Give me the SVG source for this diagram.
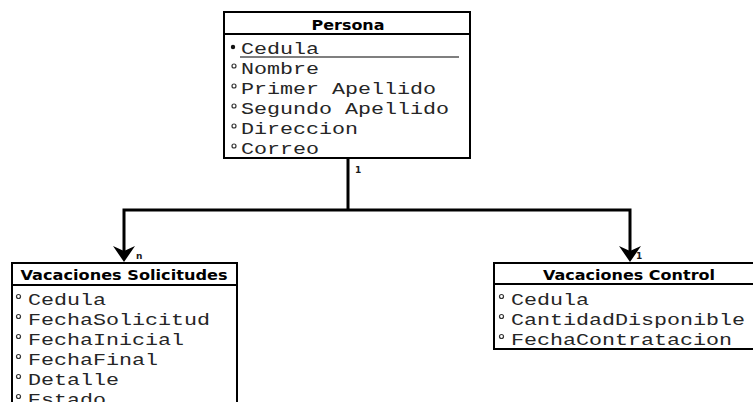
<svg xmlns="http://www.w3.org/2000/svg" width="753" height="402" viewBox="0 0 753 402">
  <style>
    .box { fill: #ffffff; stroke: #000000; stroke-width: 2; }
    .div { stroke: #000000; stroke-width: 2; }
    .hdr { font-family: "DejaVu Sans", Verdana, sans-serif; font-weight: bold; font-size: 14px; fill: #000000; text-anchor: middle; }
    .attr { font-family: "Liberation Mono", "Courier New", monospace; font-size: 16px; fill: #262626; }
    .opt { fill: #ffffff; stroke: #333333; stroke-width: 1.2; }
    .key { fill: #111111; }
    .wire { fill: none; stroke: #000000; stroke-width: 3; }
    .card { font-family: "DejaVu Sans", Verdana, sans-serif; font-weight: bold; font-size: 9px; fill: #1a1a1a; }
  </style>
  <defs>
    <path id="head" d="M0,0 L-11,-16 L0,-11 L11,-16 Z" fill="#000000"/>
  </defs>

  <rect width="753" height="402" fill="#ffffff"/>

  <!-- relationships -->
  <g id="connectors">
    <path class="wire" d="M348,158 V210"/>
    <path class="wire" d="M124,251 V210 H630 V251"/>
    <use href="#head" x="124" y="262"/>
    <use href="#head" x="630" y="262"/>
    <text class="card" x="355" y="173">1</text>
    <text class="card" x="136" y="259">n</text>
    <text class="card" x="636" y="259">1</text>
  </g>

  <!-- Persona entity -->
  <g id="persona">
    <rect class="box" x="224" y="12" width="246" height="146"/>
    <line class="div" x1="224" y1="34" x2="470" y2="34"/>
    <text class="hdr" x="348" y="30" textLength="73" lengthAdjust="spacingAndGlyphs">Persona</text>
    <circle class="key" cx="233" cy="47" r="2.2"/>
    <text class="attr" x="241" y="54" textLength="78" lengthAdjust="spacingAndGlyphs">Cedula</text>
    <line x1="240" y1="57" x2="459" y2="57" stroke="#555555" stroke-width="1.5"/>
    <circle class="opt" cx="234" cy="66" r="2"/>
    <text class="attr" x="241" y="74" textLength="78" lengthAdjust="spacingAndGlyphs">Nombre</text>
    <circle class="opt" cx="234" cy="86" r="2"/>
    <text class="attr" x="241" y="94" textLength="195" lengthAdjust="spacingAndGlyphs">Primer Apellido</text>
    <circle class="opt" cx="234" cy="106" r="2"/>
    <text class="attr" x="241" y="114" textLength="208" lengthAdjust="spacingAndGlyphs">Segundo Apellido</text>
    <circle class="opt" cx="234" cy="126" r="2"/>
    <text class="attr" x="241" y="134" textLength="117" lengthAdjust="spacingAndGlyphs">Direccion</text>
    <circle class="opt" cx="234" cy="146" r="2"/>
    <text class="attr" x="241" y="154" textLength="78" lengthAdjust="spacingAndGlyphs">Correo</text>
  </g>

  <!-- Vacaciones Solicitudes entity -->
  <g id="vacaciones-solicitudes">
    <rect class="box" x="12" y="263" width="225" height="160"/>
    <line class="div" x1="12" y1="285" x2="237" y2="285"/>
    <text class="hdr" x="124" y="280" textLength="207" lengthAdjust="spacingAndGlyphs">Vacaciones Solicitudes</text>
    <circle class="opt" cx="18.5" cy="296.5" r="2"/>
    <text class="attr" x="28" y="305" textLength="78" lengthAdjust="spacingAndGlyphs">Cedula</text>
    <circle class="opt" cx="18.5" cy="316.5" r="2"/>
    <text class="attr" x="28" y="325" textLength="182" lengthAdjust="spacingAndGlyphs">FechaSolicitud</text>
    <circle class="opt" cx="18.5" cy="336.5" r="2"/>
    <text class="attr" x="28" y="345" textLength="156" lengthAdjust="spacingAndGlyphs">FechaInicial</text>
    <circle class="opt" cx="18.5" cy="356.5" r="2"/>
    <text class="attr" x="28" y="365" textLength="130" lengthAdjust="spacingAndGlyphs">FechaFinal</text>
    <circle class="opt" cx="18.5" cy="376.5" r="2"/>
    <text class="attr" x="28" y="385" textLength="91" lengthAdjust="spacingAndGlyphs">Detalle</text>
    <circle class="opt" cx="18.5" cy="396.5" r="2"/>
    <text class="attr" x="28" y="405" textLength="78" lengthAdjust="spacingAndGlyphs">Estado</text>
  </g>

  <!-- Vacaciones Control entity -->
  <g id="vacaciones-control">
    <rect class="box" x="494" y="263" width="271" height="86"/>
    <line class="div" x1="494" y1="284" x2="765" y2="284"/>
    <text class="hdr" x="629" y="280" textLength="172" lengthAdjust="spacingAndGlyphs">Vacaciones Control</text>
    <circle class="opt" cx="501.5" cy="296.5" r="2"/>
    <text class="attr" x="511" y="305" textLength="78" lengthAdjust="spacingAndGlyphs">Cedula</text>
    <circle class="opt" cx="501.5" cy="316.5" r="2"/>
    <text class="attr" x="511" y="325" textLength="234" lengthAdjust="spacingAndGlyphs">CantidadDisponible</text>
    <circle class="opt" cx="501.5" cy="336.5" r="2"/>
    <text class="attr" x="511" y="345" textLength="221" lengthAdjust="spacingAndGlyphs">FechaContratacion</text>
  </g>
</svg>
